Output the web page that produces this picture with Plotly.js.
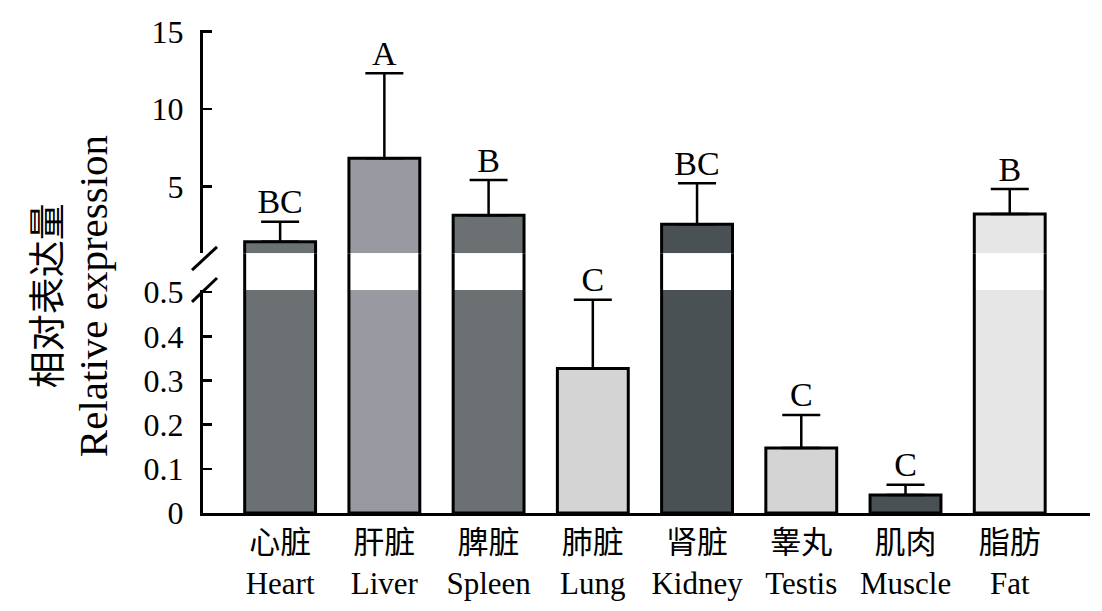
<!DOCTYPE html>
<html>
<head>
<meta charset="utf-8">
<script src="https://cdn.plot.ly/plotly-3.0.1.min.js"></script>
<style>body{margin:0;background:#fff}</style>
</head>
<body>
<div id="chart" style="width:1102px;height:611px"></div>
<script>
// tissues
const tissuesCn = ['心脏', '肝脏', '脾脏', '肺脏', '肾脏', '睾丸', '肌肉', '脂肪'];
const tissuesEn = ['Heart', 'Liver', 'Spleen', 'Lung', 'Kidney', 'Testis', 'Muscle', 'Fat'];
const expression = [1.45, 6.83, 3.17, 0.327, 2.59, 0.147, 0.041, 3.24];
const errorUp = [1.29, 5.49, 2.26, 0.156, 2.63, 0.075, 0.023, 1.61];
const letters = ['BC', 'A', 'B', 'C', 'BC', 'C', 'C', 'B'];
const barColors = ['#6b7173', '#9899a1', '#6b7173', '#d4d4d4', '#4a5154', '#d4d4d4', '#4a5154', '#e6e6e6'];

// broken y axis
const lowRange = [0, 0.505];
const highRange = [0.72, 15.1];

const cats = tissuesCn.map((c, i) => c + '<br>' + tissuesEn[i]);
const isHigh = expression.map(v => v > lowRange[1]);
const tops = expression.map((v, i) => v + errorUp[i]);

const FONT = 'Liberation Serif, Noto Sans CJK SC, serif';
const outline = { color: '#000', width: 3 };
const errBar = (arr) => ({
  type: 'data', symmetric: false, array: arr, arrayminus: arr.map(() => 0),
  color: '#000', thickness: 2.5, width: 19
});

const traces = [
  // lower part 0 - 0.5
  {
    type: 'bar', x: cats, y: expression, yaxis: 'y',
    marker: { color: barColors, line: outline },
    error_y: errBar(errorUp), hoverinfo: 'x+y'
  },
  // white band across the break
  {
    type: 'bar', x: cats, y: isHigh.map(h => h ? 1 : 0), yaxis: 'y3',
    marker: { color: '#fff', line: outline }, hoverinfo: 'skip'
  },
  // upper part
  {
    type: 'bar', x: cats, y: expression, yaxis: 'y2',
    marker: { color: barColors, line: outline },
    error_y: errBar(errorUp), hoverinfo: 'x+y'
  },
  // significance letters
  {
    type: 'scatter', mode: 'text', x: cats, yaxis: 'y',
    y: tops.map((t, i) => isHigh[i] ? null : t),
    text: letters, textposition: 'top center', cliponaxis: false,
    textfont: { family: FONT, size: 34, color: '#000' }, hoverinfo: 'skip'
  },
  {
    type: 'scatter', mode: 'text', x: cats, yaxis: 'y2',
    y: tops.map((t, i) => isHigh[i] ? t : null),
    text: letters, textposition: 'top center', cliponaxis: false,
    textfont: { family: FONT, size: 34, color: '#000' }, hoverinfo: 'skip'
  }
];

const yCommon = {
  showline: true, linewidth: 3, linecolor: '#000',
  ticks: 'inside', ticklen: 9, tickwidth: 2.5, tickcolor: '#000',
  showgrid: false, zeroline: false, fixedrange: true,
  tickfont: { family: FONT, size: 32, color: '#000' },
  ticklabelstandoff: 10, anchor: 'x'
};

const layout = {
  width: 1102, height: 611,
  margin: { l: 203, r: 12, t: 30, b: 98 },
  paper_bgcolor: '#fff', plot_bgcolor: 'rgba(0,0,0,0)',
  showlegend: false, barmode: 'overlay', bargap: 0.32,
  xaxis: {
    range: [-0.74, 7.77], showline: true, linewidth: 3, linecolor: '#000',
    ticks: '', showgrid: false, zeroline: false, fixedrange: true,
    tickfont: { family: FONT, size: 31, color: '#000' }, anchor: 'y'
  },
  yaxis: Object.assign({}, yCommon, {
    domain: [0, 0.4617], range: lowRange, tickvals: [0, 0.1, 0.2, 0.3, 0.4, 0.5]
  }),
  yaxis3: {
    domain: [0.4617, 0.538], range: [0.1, 0.9], visible: false, fixedrange: true, anchor: 'x'
  },
  yaxis2: Object.assign({}, yCommon, {
    domain: [0.538, 1], range: highRange, tickvals: [5, 10, 15]
  }),
  shapes: [
    { type: 'line', xref: 'paper', yref: 'paper', x0: -0.0124, x1: 0.0158, y0: 0.503, y1: 0.551,
      line: { color: '#000', width: 3 } },
    { type: 'line', xref: 'paper', yref: 'paper', x0: -0.0124, x1: 0.0158, y0: 0.437, y1: 0.4865,
      line: { color: '#000', width: 3 } }
  ],
  annotations: [
    { text: '相对表达量', xref: 'paper', yref: 'paper', x: -0.178, y: 0.449, textangle: -90,
      xanchor: 'center', yanchor: 'middle',
      showarrow: false, font: { family: 'Noto Sans CJK SC', size: 37, color: '#000' } },
    { text: 'Relative expression', xref: 'paper', yref: 'paper', x: -0.124, y: 0.449, textangle: -90,
      xanchor: 'center', yanchor: 'middle',
      showarrow: false, font: { family: FONT, size: 41, color: '#000' } }
  ]
};

Plotly.newPlot('chart', traces, layout, { displayModeBar: false, staticPlot: true });
</script>
</body>
</html>
